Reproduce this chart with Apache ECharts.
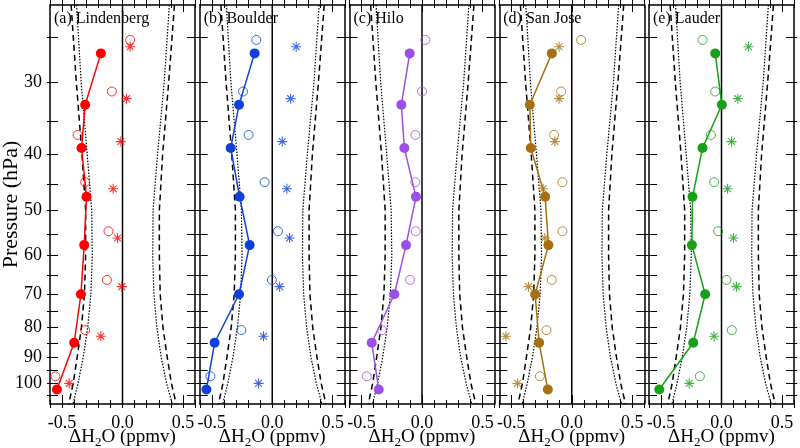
<!DOCTYPE html>
<html><head><meta charset="utf-8">
<script src="https://cdn.jsdelivr.net/npm/echarts@6/dist/echarts.min.js"></script>
<style>html,body{margin:0;padding:0;background:#fff}#c{width:800px;height:448px}</style>
</head><body><div id="c"></div>
<script>
// ---------- data ----------
const stations = ['(a) Lindenberg', '(b) Boulder', '(c) Hilo', '(d) San Jose', '(e) Lauder'];
const colors = ['#ff0000', '#1040d8', '#9b4fe6', '#a5700f', '#18a018'];

// pressure levels (hPa) of the three symbol groups
const pressureFilled = [26.7, 32.8, 39.0, 47.4, 57.5, 70.0, 85.0, 102.5];
const pressureOpen   = [25.3, 31.1, 37.0, 44.7, 54.4, 66.1, 80.8, 97.2];
const pressureStar   = [26.0, 32.0, 38.0, 45.9, 55.9, 67.9, 82.8, 100.0];

// ΔH2O (ppmv)
const filledA = [-0.179, -0.309, -0.339, -0.298, -0.317, -0.344, -0.400, -0.543];
const openA   = [0.063, -0.088, -0.372, -0.309, -0.116, -0.129, -0.309, -0.556];
const starA   = [0.063, 0.033, -0.014, -0.077, -0.041, -0.006, -0.179, -0.441];

const filledB = [-0.146, -0.275, -0.344, -0.270, -0.187, -0.275, -0.477, -0.545];
const openB   = [-0.132, -0.242, -0.196, -0.063, 0.047, -0.003, -0.256, -0.512];
const starB   = [0.198, 0.152, 0.083, 0.121, 0.143, 0.061, -0.072, -0.113];

const filledC = [-0.102, -0.171, -0.146, -0.050, -0.132, -0.229, -0.416, -0.358];
const openC   = [0.028, 0.000, -0.055, -0.055, -0.052, -0.099, -0.331, -0.457];
const starC   = [];

const filledD = [-0.165, -0.347, -0.339, -0.220, -0.193, -0.303, -0.270, -0.198];
const openD   = [0.077, -0.088, -0.146, -0.077, -0.077, -0.165, -0.209, -0.264];
const starD   = [-0.105, -0.105, -0.140, -0.237, -0.223, -0.358, -0.545, -0.449];

const filledE = [-0.052, 0.003, -0.157, -0.240, -0.245, -0.135, -0.234, -0.515];
const openE   = [-0.157, -0.052, -0.088, -0.061, -0.028, 0.041, 0.085, -0.179];
const starE   = [0.223, 0.135, 0.083, 0.050, 0.099, 0.124, -0.061, -0.267];

// envelope curves (same in every panel)
const envPressure = [22, 30, 40, 50, 60, 70, 80, 90, 100, 108.6];
const dashedLeft  = [-0.425, -0.382, -0.335, -0.305, -0.305, -0.315, -0.340, -0.375, -0.408, -0.445];
const dashedRight = [0.430, 0.382, 0.332, 0.305, 0.305, 0.312, 0.335, 0.370, 0.405, 0.445];
const dottedLeft  = [-0.380, -0.342, -0.292, -0.255, -0.250, -0.262, -0.288, -0.325, -0.368, -0.410];
const dottedRight = [0.388, 0.345, 0.290, 0.253, 0.250, 0.260, 0.285, 0.320, 0.365, 0.412];

// axis ticks / labels
const pressureTicks  = [25, 30, 35, 40, 45, 50, 55, 60, 65, 70, 75, 80, 85, 90, 95, 100, 105];
const pressureLabels = [30, 40, 50, 60, 70, 80, 90, 100];
const xLabels = [-0.5, 0, 0.5];
const pRange = [22, 108.6];

const filledAll = [filledA, filledB, filledC, filledD, filledE];
const openAll = [openA, openB, openC, openD, openE];
const starAll = [starA, starB, starC, starD, starE];

// ---------- build ----------
const FONT = '"Liberation Serif", "Times New Roman", serif';
const lg = v => Math.log10(v);
const yMin = lg(pRange[0]), yMax = lg(pRange[1]);
const pts = (xs, ps) => xs.map((x, k) => [x, lg(ps[k])]);

const grids = [], xAxes = [], yAxes = [], series = [], titles = [];
const starPath = 'path://M5,0L5,10M0,5L10,5M1.6,1.6L8.4,8.4M1.6,8.4L8.4,1.6';

for (let i = 0; i < 5; i++) {
  const left = 50 + 149.75 * i;
  grids.push({ left: left, top: 5, width: 145, height: 399, containLabel: false, outerBoundsMode: 'none' });
  titles.push({ text: stations[i], left: left + 4, top: 11, padding: 0,
    textStyle: { fontFamily: FONT, fontSize: 16, fontWeight: 'normal', color: '#000' } });

  const xBase = { gridIndex: i, type: 'value', min: -0.6, max: 0.6, interval: 0.1,
    splitLine: { show: false }, axisLabel: { show: false },
    axisLine: { show: false, onZero: false } };
  // bottom main
  xAxes.push(Object.assign({}, xBase, {
    position: 'bottom',
    axisLine: { show: true, onZero: false, lineStyle: { color: '#000', width: 1.5 } },
    axisTick: { show: true, inside: true, length: 4, lineStyle: { color: '#000', width: 1 } },
    axisLabel: { show: true, customValues: xLabels, margin: 10, color: '#000',
      fontFamily: FONT, fontSize: 18, formatter: v => (Math.abs(v) < 1e-9 ? 0 : v).toFixed(1) },
    name: '{a|ΔH}{s|2}{a|O (ppmv)}', nameLocation: 'middle', nameGap: 24, nameMoveOverlap: false,
    nameTextStyle: { color: '#000', fontFamily: FONT, fontSize: 19,
      rich: { a: { fontFamily: FONT, fontSize: 19, color: '#000', verticalAlign: 'top', lineHeight: 20 },
              s: { fontFamily: FONT, fontSize: 13, color: '#000', verticalAlign: 'top', lineHeight: 13, padding: [8, 0, 0, 0] } } }
  }));
  // bottom major inside
  xAxes.push(Object.assign({}, xBase, { position: 'bottom',
    axisTick: { show: true, inside: true, length: 9, customValues: xLabels, lineStyle: { color: '#000', width: 1 } } }));
  // bottom outside
  xAxes.push(Object.assign({}, xBase, { position: 'bottom',
    axisTick: { show: true, inside: false, length: 4, lineStyle: { color: '#000', width: 1 } } }));
  // top main
  xAxes.push(Object.assign({}, xBase, { position: 'top',
    axisLine: { show: true, onZero: false, lineStyle: { color: '#000', width: 1.5 } },
    axisTick: { show: true, inside: true, length: 3, lineStyle: { color: '#000', width: 1 } } }));
  // top major inside
  xAxes.push(Object.assign({}, xBase, { position: 'top',
    axisTick: { show: true, inside: true, length: 7, customValues: xLabels, lineStyle: { color: '#000', width: 1 } } }));
  // top outside
  xAxes.push(Object.assign({}, xBase, { position: 'top',
    axisTick: { show: true, inside: false, length: 5, lineStyle: { color: '#000', width: 1 } } }));

  const yBase = { gridIndex: i, type: 'value', min: yMin, max: yMax, inverse: true,
    splitLine: { show: false }, axisLabel: { show: false },
    axisLine: { show: false, onZero: false } };
  const tickVals = pressureTicks.map(lg);
  yAxes.push(Object.assign({}, yBase, { position: 'left',
    axisLine: { show: true, onZero: false, lineStyle: { color: '#000', width: 1.5 } },
    axisTick: { show: true, inside: true, length: 8, customValues: tickVals, lineStyle: { color: '#000', width: 1 } },
    axisLabel: { show: i === 0, customValues: pressureLabels.map(lg), margin: 8, color: '#000',
      fontFamily: FONT, fontSize: 18, formatter: v => String(Math.round(Math.pow(10, v))) },
    name: i === 0 ? 'Pressure (hPa)' : '', nameLocation: 'middle', nameGap: 28, nameRotate: 90,
    nameMoveOverlap: false,
    nameTextStyle: { color: '#000', fontFamily: FONT, fontSize: 22 } }));
  yAxes.push(Object.assign({}, yBase, { position: 'left',
    axisTick: { show: true, inside: false, length: 3, customValues: tickVals, lineStyle: { color: '#000', width: 1 } } }));
  yAxes.push(Object.assign({}, yBase, { position: 'right',
    axisLine: { show: true, onZero: false, lineStyle: { color: '#000', width: 1.5 } },
    axisTick: { show: true, inside: true, length: 8, customValues: tickVals, lineStyle: { color: '#000', width: 1 } } }));
  yAxes.push(Object.assign({}, yBase, { position: 'right',
    axisTick: { show: true, inside: false, length: 3, customValues: tickVals, lineStyle: { color: '#000', width: 1 } } }));

  const xi = 6 * i, yi = 4 * i;
  const base = { xAxisIndex: xi, yAxisIndex: yi, silent: true, animation: false };
  const env = (xs, type, w) => Object.assign({}, base, { type: 'line', symbol: 'none', z: 1,
    data: pts(xs, envPressure), lineStyle: { color: '#000', width: w, type: type } });
  series.push(env(dashedLeft, [6, 4], 1.5));
  series.push(env(dashedRight, [6, 4], 1.5));
  series.push(env(dottedLeft, [1.5, 1.5], 1.2));
  series.push(env(dottedRight, [1.5, 1.5], 1.2));
  series.push(Object.assign({}, base, { type: 'line', symbol: 'none', z: 2,
    data: [[0, yMin], [0, yMax]], lineStyle: { color: '#000', width: 1.5 } }));
  const c = colors[i];
  series.push(Object.assign({}, base, { type: 'line', z: 4, symbol: 'circle', symbolSize: 10,
    data: pts(filledAll[i], pressureFilled), lineStyle: { color: c, width: 1.5 },
    itemStyle: { color: c } }));
  series.push(Object.assign({}, base, { type: 'scatter', z: 3, symbol: 'circle', symbolSize: 9,
    data: pts(openAll[i], pressureOpen),
    itemStyle: { color: 'rgba(0,0,0,0)', borderColor: c, borderWidth: 1 } }));
  series.push(Object.assign({}, base, { type: 'scatter', z: 3, symbol: starPath, symbolSize: 10,
    data: pts(starAll[i], pressureStar),
    itemStyle: { color: 'rgba(0,0,0,0)', borderColor: c, borderWidth: 1.1 } }));
}

const chart = echarts.init(document.getElementById('c'), null, { renderer: 'canvas' });
chart.setOption({
  animation: false,
  backgroundColor: '#fff',
  title: titles,
  grid: grids,
  xAxis: xAxes,
  yAxis: yAxes,
  series: series
});
</script>
</body></html>
